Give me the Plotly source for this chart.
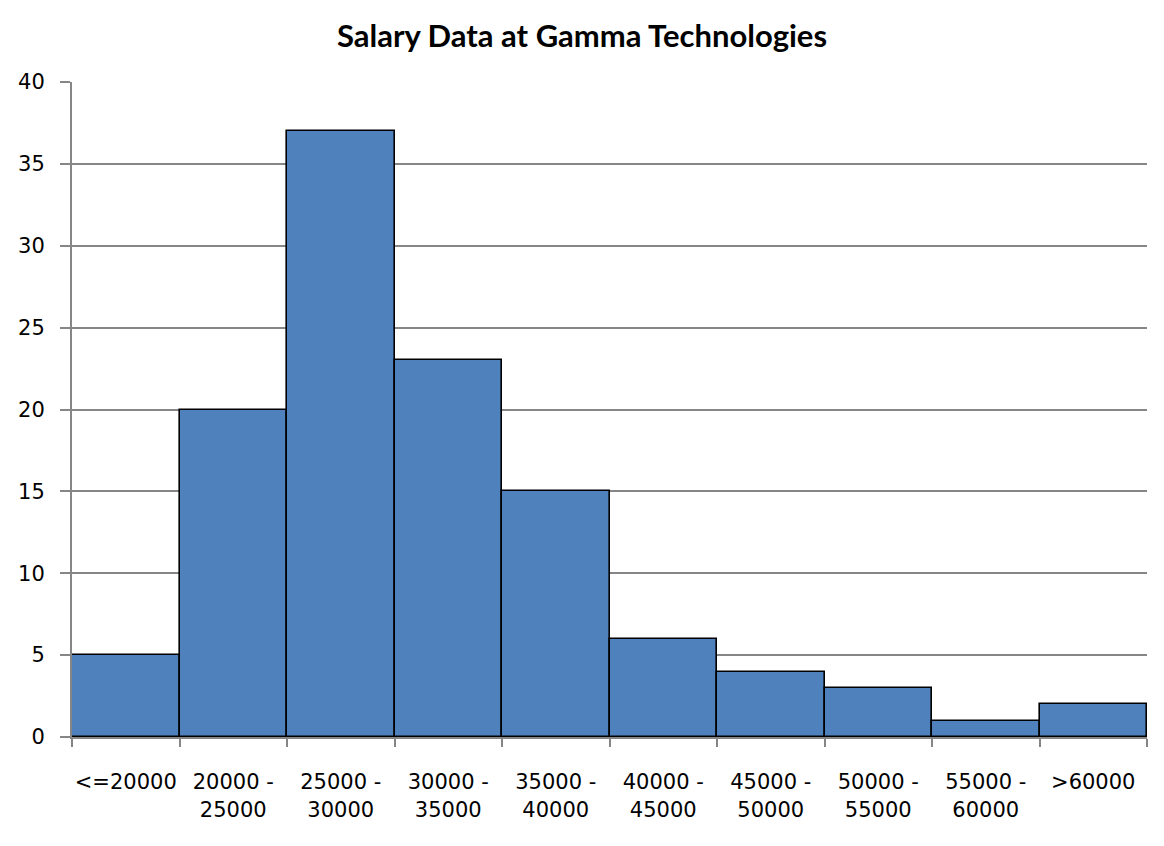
import plotly.graph_objects as go

categories = ["<=20000", "20000 -<br>25000", "25000 -<br>30000", "30000 -<br>35000",
              "35000 -<br>40000", "40000 -<br>45000", "45000 -<br>50000",
              "50000 -<br>55000", "55000 -<br>60000", ">60000"]
counts = [5, 20, 37, 23, 15, 6, 4, 3, 1, 2]
title_text = "Salary Data at Gamma Technologies"

fig = go.Figure(go.Bar(
    x=categories, y=counts,
    marker=dict(color="#4F81BD", line=dict(color="black", width=1.6)),
))

fig.update_layout(
    width=1164, height=846,
    paper_bgcolor="white", plot_bgcolor="white",
    margin=dict(l=72, r=17, t=82, b=109),
    bargap=0,
    showlegend=False,
    title=dict(text="<b>" + title_text + "</b>", x=0.5, xanchor="center",
               y=1 - 36 / 846, yanchor="middle",
               font=dict(family="Lato, Noto Sans, sans-serif", size=31, color="black")),
    font=dict(family="DejaVu Sans, Verdana, sans-serif", size=21, color="black"),
)

fig.update_xaxes(
    type="category", tickson="boundaries", tickangle=0, automargin=False,
    showline=True, linecolor="#868686", linewidth=2,
    ticks="outside", ticklen=8, tickcolor="#868686", tickwidth=1.5,
    showgrid=False, ticklabelstandoff=25,
    tickfont=dict(family="DejaVu Sans, Verdana, sans-serif", size=21, color="black"),
)
fig.update_yaxes(
    range=[0, 40], dtick=5, tick0=0, automargin=False,
    showline=True, linecolor="#868686", linewidth=2,
    ticks="outside", ticklen=10, tickcolor="#868686", tickwidth=1.5,
    showgrid=True, gridcolor="#868686", gridwidth=1.5,
    zeroline=False, ticklabelstandoff=11,
    tickfont=dict(family="DejaVu Sans, Verdana, sans-serif", size=21, color="black"),
)

fig.write_html("out.html")
